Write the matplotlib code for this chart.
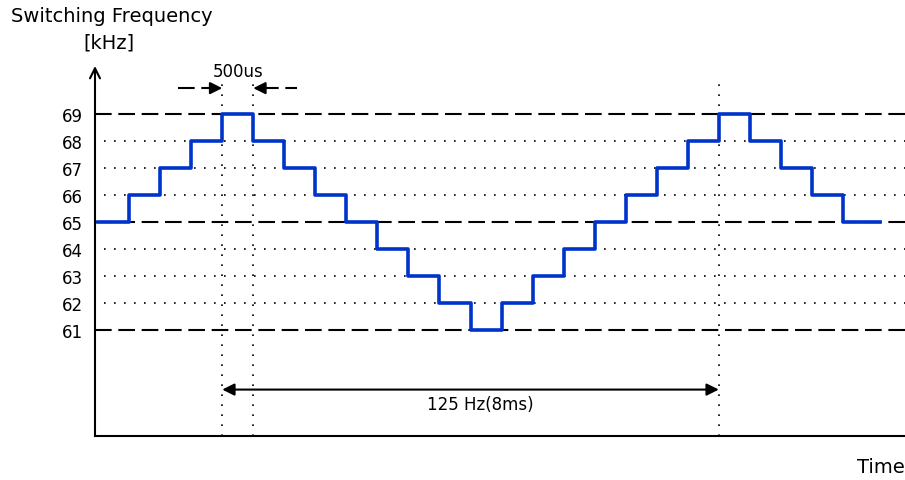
import matplotlib
matplotlib.use("Agg")
import matplotlib.pyplot as plt

plt.rcParams['font.family'] = ['DejaVu Sans']

# Data (time in ms, frequency in kHz)
step_times = [0, 0.5, 1.0, 1.5, 2.0, 2.5, 3.0, 3.5, 4.0, 4.5, 5.0, 5.5, 6.0,
              6.5, 7.0, 7.5, 8.0, 8.5, 9.0, 9.5, 10.0, 10.5, 11.0, 11.5, 12.0]
freqs = [65, 66, 67, 68, 69, 68, 67, 66, 65, 64, 63, 62, 61,
         62, 63, 64, 65, 66, 67, 68, 69, 68, 67, 66, 65]
end_time = 12.6
dashed_levels = [69, 65, 61]
dotted_levels = [68, 67, 66, 64, 63, 62]
ytick_vals = [61, 62, 63, 64, 65, 66, 67, 68, 69]
vlines_t = [2.0, 2.5, 10.0]

fig = plt.figure(figsize=(9.05, 4.81), dpi=100)
ax = fig.add_axes([95/905, 44/481, 810/905, 370/481])
xmin, xmax = -0.05, 13.0
ymin, ymax = 57.07, 70.78
ax.set_xlim(xmin, xmax)
ax.set_ylim(ymin, ymax)

for s in ['top', 'right', 'left']:
    ax.spines[s].set_visible(False)
ax.spines['bottom'].set_linewidth(1.5)
ax.set_xticks([])
ax.set_yticks(ytick_vals)
ax.set_yticklabels([str(v) for v in ytick_vals], fontsize=12)
ax.tick_params(axis='y', length=0, pad=9)

# horizontal reference lines
for lv in dashed_levels:
    ax.plot([xmin, xmax], [lv, lv], color='black', lw=1.5,
            dashes=(8, 3.2), zorder=1, clip_on=False)
for lv in dotted_levels:
    ax.plot([0.1, xmax], [lv, lv], color='black', lw=1.2,
            dashes=(1, 5), zorder=1, clip_on=False)

# vertical dotted lines
for t in vlines_t:
    ax.plot([t, t], [ymin, 70.3], color='black', lw=1.2,
            dashes=(1, 5), zorder=1)

# step line
xs = step_times + [end_time]
ys = freqs + [freqs[-1]]
ax.step(xs, ys, where='post', color='#0033CC', lw=2.6, zorder=3)

# y axis with open arrow
ax.annotate('', xy=(xmin, ymax), xytext=(xmin, ymin), xycoords='data',
            arrowprops=dict(arrowstyle='->', lw=1.5, color='black',
                            mutation_scale=18, shrinkA=0, shrinkB=0),
            annotation_clip=False)

# 500us arrows
ya = 69.96
ax.plot([1.29, 1.86], [ya, ya], color='black', lw=1.5, dashes=(8, 3.2))
ax.annotate('', xy=(2.0, ya), xytext=(1.85, ya),
            arrowprops=dict(arrowstyle='-|>', lw=1.5, color='black',
                            mutation_scale=18, shrinkA=0, shrinkB=0))
ax.plot([2.64, 3.2], [ya, ya], color='black', lw=1.5, dashes=(8, 3.2))
ax.annotate('', xy=(2.5, ya), xytext=(2.65, ya),
            arrowprops=dict(arrowstyle='-|>', lw=1.5, color='black',
                            mutation_scale=18, shrinkA=0, shrinkB=0))
ax.text(2.25, 70.6, '500us', ha='center', va='center', fontsize=12)

# 125 Hz arrow
yb = 58.79
ax.annotate('', xy=(2.0, yb), xytext=(10.0, yb),
            arrowprops=dict(arrowstyle='<|-|>', lw=1.5, color='black',
                            mutation_scale=18, shrinkA=0, shrinkB=0))
ax.text(6.15, 58.26, '125 Hz(8ms)', ha='center', va='center', fontsize=12)

# labels
fig.text(112/905, 1 - 17/481, 'Switching Frequency', ha='center', va='center', fontsize=14)
fig.text(109/905, 1 - 43/481, '[kHz]', ha='center', va='center', fontsize=14)
fig.text(1.0, 1 - 468/481, 'Time', ha='right', va='center', fontsize=14)

fig.savefig('out.png', dpi=100)
